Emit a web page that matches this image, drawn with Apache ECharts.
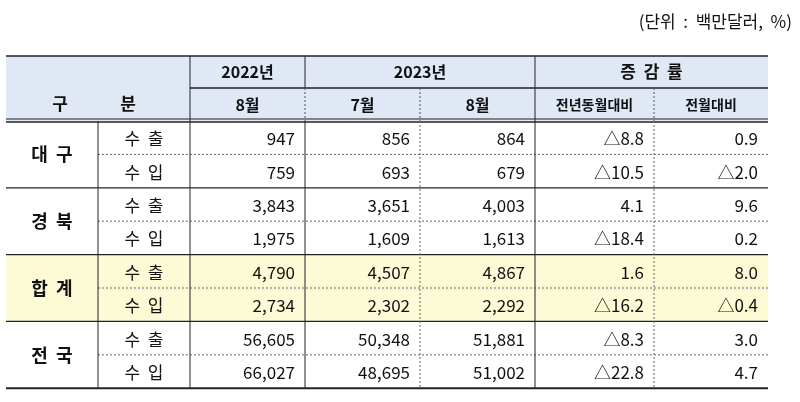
<!DOCTYPE html>
<html><head><meta charset="utf-8">
<script src="https://cdn.jsdelivr.net/npm/echarts@6/dist/echarts.min.js"></script>
<style>html,body{margin:0;background:#fff}#c{width:800px;height:402px}</style>
</head><body><div id="c"></div>
<script>
const unitText = '(단위  :  백만달러,  %)';
const regions = ['대  구','경  북','합  계','전  국'];
const kinds = ['수  출','수  입'];
const y2022Aug = ['947','759','3,843','1,975','4,790','2,734','56,605','66,027'];
const y2023Jul = ['856','693','3,651','1,609','4,507','2,302','50,348','48,695'];
const y2023Aug = ['864','679','4,003','1,613','4,867','2,292','51,881','51,002'];
const yoy = ['△8.8','△10.5','4.1','△18.4','1.6','△16.2','△8.3','△22.8'];
const mom = ['0.9','△2.0','9.6','0.2','8.0','△0.4','3.0','4.7'];

const colX = [6, 98, 190, 305, 420, 535, 654, 768];
const headY = [56, 88, 121];
const rowH = 33.4;
const FONT = '"Noto Sans CJK KR", sans-serif';
const els = [];
const rect = (x,y,w,h,fill)=>els.push({type:'rect',shape:{x,y,width:w,height:h},style:{fill},silent:true});
const line = (x1,y1,x2,y2,w,c,dash)=>els.push({type:'line',shape:{x1,y1,x2,y2},style:{stroke:c||'#222',lineWidth:w||1,lineDash:dash||null},silent:true});
const text = (t,x,y,align,bold,size)=>els.push({type:'text',x,y,style:{text:t,fill:'#111',font:(bold?'bold ':'')+(size||16)+'px '+FONT,align:align||'center',verticalAlign:'middle'},silent:true});

rect(colX[0], headY[0], colX[7]-colX[0], headY[2]-headY[0], '#dfe8f4');
rect(colX[0], headY[2]+4*rowH, colX[7]-colX[0], 2*rowH, '#fdfad6');

text('구', 60, 104, 'center', true, 17);
text('분', 128, 104, 'center', true, 17);
text('2022년', (colX[2]+colX[3])/2, 72, 'center', true, 16);
text('2023년', (colX[3]+colX[5])/2, 72, 'center', true, 16);
text('증  감  률', (colX[5]+colX[7])/2, 72, 'center', true, 17);
text('8월', (colX[2]+colX[3])/2, 105, 'center', true, 16);
text('7월', (colX[3]+colX[4])/2, 105, 'center', true, 16);
text('8월', (colX[4]+colX[5])/2, 105, 'center', true, 16);
text('전년동월대비', (colX[5]+colX[6])/2, 105, 'center', true, 14);
text('전월대비', (colX[6]+colX[7])/2, 105, 'center', true, 14);

line(colX[0], headY[0], colX[7], headY[0], 1.5);
line(colX[2], headY[1], colX[7], headY[1], 1.5);
line(colX[0], headY[2]-2, colX[7], headY[2]-2, 1);
line(colX[0], headY[2]+1, colX[7], headY[2]+1, 1.5);
line(colX[2], headY[0], colX[2], headY[2], 1);
line(colX[3], headY[0], colX[3], headY[1], 1);
line(colX[5], headY[0], colX[5], headY[2], 1);
line(colX[3], headY[1], colX[3], headY[2], 1, '#555', [2,2]);
line(colX[4], headY[1], colX[4], headY[2], 1, '#555', [2,2]);
line(colX[6], headY[1], colX[6], headY[2], 1, '#555', [2,2]);

const cols = [y2022Aug, y2023Jul, y2023Aug, yoy, mom];
for (let i=0;i<8;i++){
  const y0 = headY[2]+i*rowH, cy = y0+rowH/2+1;
  if (i%2===0) text(regions[i/2], (colX[0]+colX[1])/2, y0+rowH, 'center', true, 18);
  text(kinds[i%2], (colX[1]+colX[2])/2, cy, 'center', false, 17);
  cols.forEach((arr,k)=> text(arr[i], colX[k+3]-10, cy, 'right', false, 17));
  const yb = y0+rowH;
  if (i%2===0) line(colX[1], yb, colX[7], yb, 1, '#666', [2,2]);
  else line(colX[0], yb, colX[7], yb, i===7?2:1.3);
}
const yEnd = headY[2]+8*rowH;
[1,2,3,5].forEach(k=>line(colX[k], headY[2], colX[k], yEnd, 1));
[4,6].forEach(k=>line(colX[k], headY[2], colX[k], yEnd, 1, '#666', [2,2]));

text(unitText, 792, 22, 'right', false, 17);

const chart = echarts.init(document.getElementById('c'));
chart.setOption({animation:false, graphic:{elements:els}});
</script></body></html>
